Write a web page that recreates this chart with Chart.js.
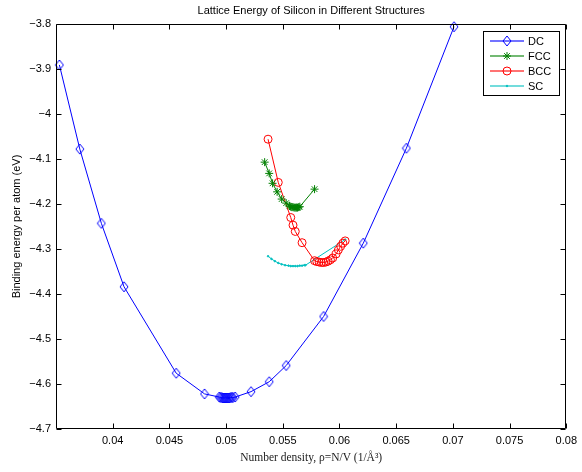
<!DOCTYPE html>
<html><head><meta charset="utf-8">
<script src="https://cdn.jsdelivr.net/npm/chart.js@4/dist/chart.umd.min.js"></script>
<style>html,body{margin:0;padding:0;background:#fff}</style>
</head><body>
<canvas id="c" width="582" height="472"></canvas>
<script>
// ---- data ----
const xTicks = [0.04, 0.045, 0.05, 0.055, 0.06, 0.065, 0.07, 0.075, 0.08];
const yTicks = [-4.7, -4.6, -4.5, -4.4, -4.3, -4.2, -4.1, -4.0, -3.9, -3.8];
const seriesNames = ['DC', 'FCC', 'BCC', 'SC'];

const dcDensity = [0.0353, 0.0371, 0.0390, 0.0410, 0.0456, 0.0481,
  0.0494, 0.0495, 0.0496, 0.0497, 0.0498, 0.0499, 0.0500, 0.0501, 0.0502, 0.0503, 0.0504, 0.0505, 0.0506, 0.0508,
  0.0522, 0.0538, 0.0553, 0.0586, 0.0621, 0.0659, 0.0701];
const dcEnergy = [-3.891, -4.078, -4.243, -4.384, -4.576, -4.622,
  -4.629, -4.630, -4.630, -4.631, -4.631, -4.631, -4.631, -4.631, -4.631, -4.631, -4.630, -4.630, -4.630, -4.629,
  -4.617, -4.595, -4.559, -4.450, -4.287, -4.076, -3.806];

const fccDensity = [0.0534, 0.0538, 0.0541, 0.0545, 0.0549, 0.0553,
  0.0556, 0.0557, 0.0558, 0.0559, 0.0560, 0.0561, 0.0562, 0.0563, 0.0564, 0.0565, 0.0578];
const fccEnergy = [-4.107, -4.132, -4.154, -4.173, -4.189, -4.198,
  -4.204, -4.206, -4.207, -4.207, -4.208, -4.208, -4.208, -4.208, -4.207, -4.206, -4.167];

const bccDensity = [0.0537, 0.0546, 0.0557, 0.0559, 0.0561, 0.0567,
  0.0578, 0.0580, 0.0582, 0.0584, 0.0586, 0.0588, 0.0590, 0.0592,
  0.0594, 0.0597, 0.0599, 0.0601, 0.0603, 0.0605];
const bccEnergy = [-4.056, -4.152, -4.230, -4.247, -4.261, -4.286,
  -4.326, -4.328, -4.329, -4.330, -4.330, -4.329, -4.327, -4.324,
  -4.320, -4.311, -4.302, -4.294, -4.287, -4.282];

const scDensity = [0.0537, 0.0540, 0.0543, 0.0546, 0.0549, 0.0552, 0.0555, 0.0557, 0.0559,
  0.0561, 0.0563, 0.0565, 0.0567, 0.0569, 0.0570, 0.0605];
const scEnergy = [-4.316, -4.322, -4.327, -4.331, -4.334, -4.336, -4.337, -4.338, -4.338,
  -4.338, -4.338, -4.337, -4.337, -4.336, -4.336, -4.279];

// ---- marker images ----
function diamondImage(color) {
  const c = document.createElement('canvas');
  c.width = 10; c.height = 12;
  const g = c.getContext('2d');
  g.strokeStyle = color; g.lineWidth = 1;
  g.beginPath();
  g.moveTo(5, 1); g.lineTo(9, 6); g.lineTo(5, 11); g.lineTo(1, 6); g.closePath();
  g.stroke();
  return c;
}

// ---- build chart ----
const pts = (xs, ys) => xs.map((x, i) => ({x: x, y: ys[i]}));
const colors = ['#0000ff', '#008000', '#ff0000', '#00bfbf'];
const styles = [
  {pointStyle: diamondImage('#0000ff'), pointRadius: 5},
  {pointStyle: 'star', pointRadius: 4},
  {pointStyle: 'circle', pointRadius: 4},
  {pointStyle: 'circle', pointRadius: 0.8}
];
const allData = [pts(dcDensity, dcEnergy), pts(fccDensity, fccEnergy), pts(bccDensity, bccEnergy), pts(scDensity, scEnergy)];

const datasets = seriesNames.map((n, i) => ({
  label: n,
  data: allData[i],
  showLine: true,
  borderColor: colors[i],
  backgroundColor: i === 3 ? colors[i] : 'rgba(0,0,0,0)',
  borderWidth: 1,
  pointBorderColor: colors[i],
  pointBackgroundColor: i === 3 ? colors[i] : 'rgba(0,0,0,0)',
  pointBorderWidth: 1,
  pointStyle: styles[i].pointStyle,
  pointRadius: styles[i].pointRadius,
  tension: 0,
  clip: 8
}));

const fmtY = v => (Math.abs(v + 4) < 1e-9 ? '\u22124' : (v < 0 ? '\u2212' : '') + Math.abs(v).toFixed(1));
const fmtX = v => String(parseFloat(v.toFixed(4)));

const frame = {
  id: 'frame',
  afterDraw(chart) {
    const ctx = chart.ctx, a = chart.chartArea, xs = chart.scales.x, ys = chart.scales.y;
    ctx.save();
    ctx.strokeStyle = '#000';
    ctx.lineWidth = 1;
    ctx.beginPath();
    const L = Math.round(a.left) + 0.5, R = Math.round(a.right) - 0.5, T = Math.round(a.top) + 0.5, B = Math.round(a.bottom) - 0.5;
    ctx.rect(L, T, R - L, B - T);
    const tl = 5;
    xTicks.forEach(v => {
      const p = Math.round(xs.getPixelForValue(v)) + 0.5;
      ctx.moveTo(p, B); ctx.lineTo(p, B - tl);
      ctx.moveTo(p, T); ctx.lineTo(p, T + tl);
    });
    yTicks.forEach(v => {
      const p = Math.round(ys.getPixelForValue(v)) + 0.5;
      ctx.moveTo(L, p); ctx.lineTo(L + tl, p);
      ctx.moveTo(R, p); ctx.lineTo(R - tl, p);
    });
    ctx.stroke();

    // legend box
    const bx = 483.5, by = 31.5, bw = 76, bh = 64;
    ctx.fillStyle = '#fff';
    ctx.fillRect(bx, by, bw, bh);
    ctx.strokeRect(bx, by, bw, bh);
    ctx.font = '11px "Liberation Sans", Arial, sans-serif';
    ctx.textBaseline = 'middle';
    ctx.textAlign = 'left';
    seriesNames.forEach((n, i) => {
      const y = 41 + i * 15;
      ctx.save();
      ctx.globalAlpha = 0.55;
      ctx.strokeStyle = colors[i];
      ctx.lineWidth = 2;
      ctx.beginPath(); ctx.moveTo(490, y); ctx.lineTo(524, y); ctx.stroke();
      ctx.restore();
      ctx.save();
      ctx.strokeStyle = colors[i];
      ctx.fillStyle = i === 3 ? colors[i] : 'rgba(0,0,0,0)';
      ctx.lineWidth = 1;
      if (Chart.helpers && Chart.helpers.drawPoint) {
        Chart.helpers.drawPoint(ctx, {pointStyle: styles[i].pointStyle, radius: styles[i].pointRadius, borderWidth: 1, rotation: 0}, 507, y);
      }
      ctx.restore();
      ctx.fillStyle = '#000';
      ctx.fillText(n, 528, y + 0.5);
    });
    ctx.restore();
  }
};

new Chart(document.getElementById('c'), {
  type: 'scatter',
  data: {datasets},
  plugins: [frame],
  options: {
    responsive: false,
    animation: false,
    devicePixelRatio: 1,
    layout: {padding: {left: 0, right: 11, top: 0, bottom: 0}},
    plugins: {
      legend: {display: false},
      tooltip: {enabled: false},
      title: {
        display: true,
        fullSize: false,
        text: 'Lattice Energy of Silicon in Different Structures',
        color: '#000',
        font: {family: '"Liberation Sans", Arial, sans-serif', size: 11, weight: 'normal', lineHeight: 1.2},
        padding: {top: 4, bottom: 6.8}
      }
    },
    scales: {
      x: {
        type: 'linear',
        min: 0.035, max: 0.08,
        afterBuildTicks: s => { s.ticks = xTicks.map(v => ({value: v})); },
        afterFit: s => { s.height = 43; },
        grid: {display: false, drawTicks: false},
        border: {display: false},
        ticks: {
          color: '#000', padding: 5,
          font: {family: '"Liberation Sans", Arial, sans-serif', size: 11},
          callback: v => fmtX(v), maxRotation: 0, autoSkip: false
        },
        title: {
          display: true,
          text: 'Number density, \u03C1=N/V (1/\u00C5\u00B3)',
          color: '#222',
          font: {family: '"Liberation Serif", "Times New Roman", serif', size: 11.5, lineHeight: 1.2},
          padding: {top: 7, bottom: 7}
        }
      },
      y: {
        type: 'linear',
        min: -4.7, max: -3.8,
        afterBuildTicks: s => { s.ticks = yTicks.map(v => ({value: v})); },
        afterFit: s => { s.width = 56; },
        grid: {display: false, drawTicks: false},
        border: {display: false},
        ticks: {
          color: '#000', padding: 5,
          font: {family: '"Liberation Sans", Arial, sans-serif', size: 11},
          callback: v => fmtY(v), autoSkip: false
        },
        title: {
          display: true,
          text: 'Binding energy per atom (eV)',
          color: '#000',
          font: {family: '"Liberation Sans", Arial, sans-serif', size: 11, lineHeight: 1.2},
          padding: {top: 10, bottom: 10}
        }
      }
    }
  }
});
</script>
</body></html>
